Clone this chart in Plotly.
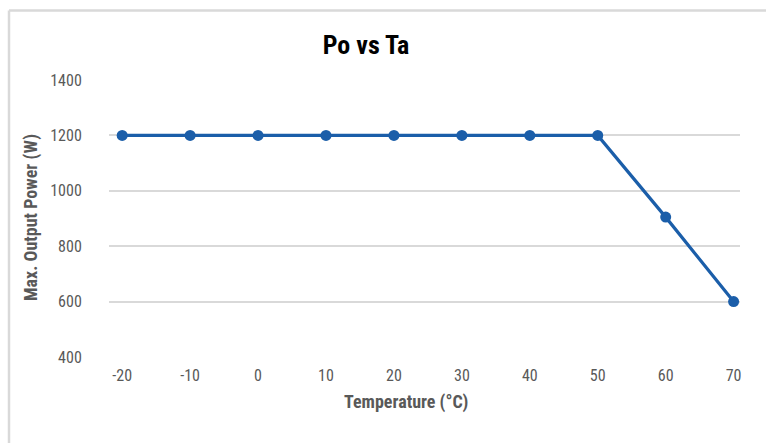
import plotly.graph_objects as go

# Data
temperature = [-20, -10, 0, 10, 20, 30, 40, 50, 60, 70]
max_power = [1200, 1200, 1200, 1200, 1200, 1200, 1200, 1200, 905, 600]
x_ticks = [-20, -10, 0, 10, 20, 30, 40, 50, 60, 70]
x_tick_labels = ["-20", "-10", "0", "10", "20", "30", "40", "50", "60", "70"]
y_ticks = [400, 600, 800, 1000, 1200, 1400]

W, H = 766, 443
L, R = 109, 740
T, B = 80.3, 356.55

COND = "Roboto Condensed, Liberation Sans Narrow, DejaVu Sans Condensed, Roboto, sans-serif"
GRAY = "#595959"

def px_x(p):
    return (p - L) / (R - L)

def px_y(p):
    return (B - p) / (B - T)

fig = go.Figure()
fig.add_trace(go.Scatter(
    x=temperature, y=max_power, mode="lines+markers",
    line=dict(color="#1B5EA9", width=3.2),
    marker=dict(color="#1B5EA9", size=11),
    showlegend=False, hoverinfo="skip",
))

fig.update_layout(
    width=W, height=H,
    margin=dict(l=L, r=W - R, t=T, b=H - B, pad=0),
    paper_bgcolor="white", plot_bgcolor="white",
    title=dict(text="<b>Po vs Ta</b>", x=366 / W, xref="container", xanchor="center",
               y=1 - 45 / H, yref="container", yanchor="middle",
               font=dict(family=COND, size=26, color="black")),
    xaxis=dict(range=[-21.94, 70.94], tickvals=x_ticks, ticktext=x_tick_labels,
               showgrid=False, zeroline=False,
               showline=False, ticks="outside", ticklen=4, tickcolor="rgba(0,0,0,0)",
               tickfont=dict(family=COND, size=16, color=GRAY)),
    yaxis=dict(range=[400, 1400], tickvals=y_ticks, showgrid=True, gridcolor="#D9D9D9",
               gridwidth=2, zeroline=False, showline=False, ticks="outside", ticklen=23,
               tickcolor="rgba(0,0,0,0)",
               tickfont=dict(family=COND, size=16, color=GRAY)),
    annotations=[
        dict(text="<b>Temperature (°C)</b>", xref="paper", yref="paper",
             x=px_x(405.7), y=px_y(401.7), xanchor="center", yanchor="middle",
             showarrow=False, font=dict(family=COND, size=18, color=GRAY)),
        dict(text="<b>Max. Output Power (W)</b>", xref="paper", yref="paper",
             x=px_x(31), y=px_y(218), xanchor="center", yanchor="middle", textangle=-90,
             showarrow=False, font=dict(family=COND, size=18, color=GRAY)),
    ],
    shapes=[
        dict(type="line", xref="paper", yref="paper", x0=px_x(9), x1=px_x(9),
             y0=px_y(445), y1=px_y(11), line=dict(color="#D9D9D9", width=2.5)),
        dict(type="line", xref="paper", yref="paper", x0=px_x(9), x1=px_x(768),
             y0=px_y(11), y1=px_y(11), line=dict(color="#D9D9D9", width=2.5)),
    ],
)

fig.write_html(
    "out.html",
    config={"displayModeBar": False},
    post_script="document.body.style.margin='0';document.body.style.overflow='hidden';",
)
